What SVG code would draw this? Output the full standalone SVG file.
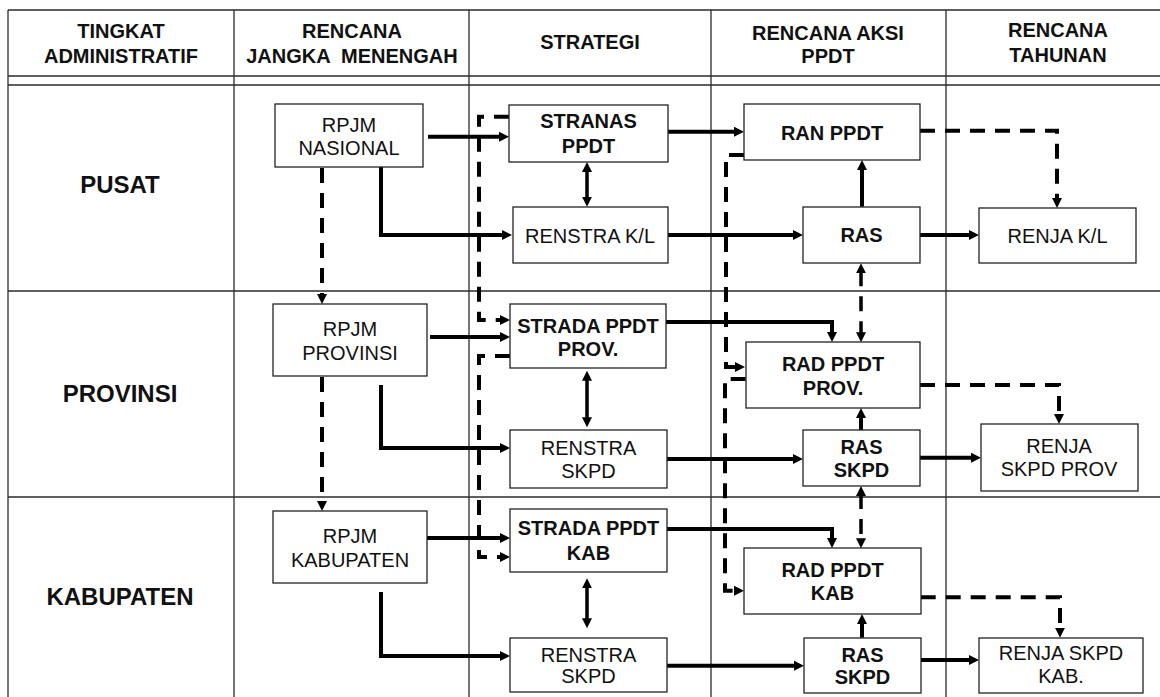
<svg xmlns="http://www.w3.org/2000/svg" width="1160" height="697" viewBox="0 0 1160 697">
<style>
.grid{stroke:#2b2b2b;stroke-width:1.3;fill:none}
.box{fill:#fff;stroke:#222;stroke-width:1.3}
.t{font-family:"Liberation Sans",Arial,sans-serif;font-size:20px;fill:#111;text-anchor:middle}
.b{font-weight:bold}
.lv{font-weight:bold;font-size:24px}
.c{fill:none;stroke:#000;stroke-width:4;marker-end:url(#ah)}
.dbl{fill:none;stroke:#000;stroke-width:3.5;marker-start:url(#ah);marker-end:url(#ah)}
.d{stroke-dasharray:15 10}
</style>
<defs>
<marker id="ah" markerUnits="userSpaceOnUse" markerWidth="10" markerHeight="10" viewBox="0 0 10 10" refX="2" refY="5" orient="auto-start-reverse"><path d="M0,0 L10,5 L0,10 z" fill="#000"/></marker>
</defs>
<rect width="1160" height="697" fill="#fff"/>
<g id="table">
<path class="grid" d="M8,10 H1160 M8,76 H1160 M8,85 H1160 M8,291 H1160 M8,497 H1160 M8,10 V697 M234,10 V697 M469,10 V697 M711,10 V697 M946,10 V697"/>
<text class="t b" x="121" y="38">TINGKAT</text>
<text class="t b" x="121" y="63">ADMINISTRATIF</text>
<text class="t b" x="352" y="38">RENCANA</text>
<text class="t b" x="352" y="63" style="white-space:pre">JANGKA  MENENGAH</text>
<text class="t b" x="590" y="49">STRATEGI</text>
<text class="t b" x="828" y="40">RENCANA AKSI</text>
<text class="t b" x="828" y="63">PPDT</text>
<text class="t b" x="1058" y="37">RENCANA</text>
<text class="t b" x="1058" y="62">TAHUNAN</text>
<text class="t lv" x="120" y="193">PUSAT</text>
<text class="t lv" x="120" y="402">PROVINSI</text>
<text class="t lv" x="120" y="605">KABUPATEN</text>
</g>
<g id="connectors">
<path class="c" d="M428,136.7 H501"/>
<path class="c" d="M381,167 V235 H504"/>
<path class="c" d="M430,337 H502"/>
<path class="c" d="M381,385 V448 H502"/>
<path class="c" d="M427,538 H502"/>
<path class="c" d="M381,592 V656 H502"/>
<path class="c" d="M666,131.7 H736"/>
<path class="c" d="M668,235 H795"/>
<path class="c" d="M666,322 H832 V334"/>
<path class="c" d="M667,459 H795"/>
<path class="c" d="M667,529 H832 V540"/>
<path class="c" d="M667,665.7 H796"/>
<path class="c" d="M862,206.7 V168"/>
<path class="c" d="M861,430 V416"/>
<path class="c" d="M862,637.7 V622"/>
<path class="c" d="M920,235 H971"/>
<path class="c" d="M920,457.7 H973"/>
<path class="c" d="M921,660 H971"/>
<path class="dbl" d="M587,170 V198.7"/>
<path class="dbl" d="M587,378.7 V419.3"/>
<path class="dbl" d="M587,586.3 V620.3"/>
<path class="c d" d="M322,168 V296"/>
<path class="c d" d="M322,377 V503"/>
<path class="c d" d="M509,116.7 H479 V320 H502"/>
<path class="c d" d="M510,356 H479 V557 H502"/>
<path class="c d" d="M744,155 H726 V367 H737"/>
<path class="c d" d="M745.7,379 H725 V590.7 H736"/>
<path class="c d" d="M920,130.7 H1057 V200"/>
<path class="c d" d="M920,385 H1059 V416"/>
<path class="c d" d="M920.7,597.3 H1060 V629.7"/>
<path class="dbl d" stroke-width="4" d="M861,271.3 V334.3"/>
<path class="dbl d" stroke-width="4" d="M861,494 V540.3"/>
</g>
<g id="rpjm-nasional"><rect class="box" x="275" y="104" width="148" height="63"/><text class="t" x="349" y="131.7">RPJM</text><text class="t" x="349" y="155">NASIONAL</text></g>
<g id="rpjm-provinsi"><rect class="box" x="273" y="304" width="154" height="72"/><text class="t" x="350" y="336">RPJM</text><text class="t" x="350" y="360">PROVINSI</text></g>
<g id="rpjm-kabupaten"><rect class="box" x="273" y="511" width="154" height="72"/><text class="t" x="350" y="543">RPJM</text><text class="t" x="350" y="567">KABUPATEN</text></g>
<g id="stranas"><rect class="box" x="509" y="105" width="159" height="57"/><text class="t b" x="588.5" y="128.3">STRANAS</text><text class="t b" x="588.5" y="152.7">PPDT</text></g>
<g id="renstra-kl"><rect class="box" x="513" y="207" width="155" height="56"/><text class="t" x="590" y="242.7">RENSTRA K/L</text></g>
<g id="strada-prov"><rect class="box" x="510" y="304" width="156" height="64"/><text class="t b" x="588" y="332.7">STRADA PPDT</text><text class="t b" x="588" y="356">PROV.</text></g>
<g id="renstra-skpd-prov"><rect class="box" x="510" y="430" width="157" height="58"/><text class="t" x="588.5" y="455">RENSTRA</text><text class="t" x="588.5" y="478.3">SKPD</text></g>
<g id="strada-kab"><rect class="box" x="510" y="509" width="157" height="63"/><text class="t b" x="588.5" y="535">STRADA PPDT</text><text class="t b" x="588.5" y="560">KAB</text></g>
<g id="renstra-skpd-kab"><rect class="box" x="510" y="638" width="157" height="54"/><text class="t" x="588.5" y="661.7">RENSTRA</text><text class="t" x="588.5" y="683.3">SKPD</text></g>
<g id="ran-ppdt"><rect class="box" x="744" y="104" width="176" height="56"/><text class="t b" x="832" y="140">RAN PPDT</text></g>
<g id="ras"><rect class="box" x="803" y="207" width="117" height="56"/><text class="t b" x="861.5" y="241.7">RAS</text></g>
<g id="rad-prov"><rect class="box" x="746" y="342" width="174" height="66"/><text class="t b" x="833" y="370.7">RAD PPDT</text><text class="t b" x="833" y="395">PROV.</text></g>
<g id="ras-skpd-prov"><rect class="box" x="803" y="430" width="117" height="56"/><text class="t b" x="861.5" y="454">RAS</text><text class="t b" x="861.5" y="477.3">SKPD</text></g>
<g id="rad-kab"><rect class="box" x="744" y="548" width="177" height="66"/><text class="t b" x="832.5" y="576.7">RAD PPDT</text><text class="t b" x="832.5" y="600">KAB</text></g>
<g id="ras-skpd-kab"><rect class="box" x="804" y="638" width="117" height="55"/><text class="t b" x="862.5" y="661.7">RAS</text><text class="t b" x="862.5" y="684">SKPD</text></g>
<g id="renja-kl"><rect class="box" x="979" y="208" width="157" height="55"/><text class="t" x="1057.5" y="242.7">RENJA K/L</text></g>
<g id="renja-skpd-prov"><rect class="box" x="981" y="424" width="157" height="67"/><text class="t" x="1059" y="452.7">RENJA</text><text class="t" x="1059" y="476">SKPD PROV</text></g>
<g id="renja-skpd-kab"><rect class="box" x="979" y="638" width="164" height="55"/><text class="t" x="1061" y="660">RENJA SKPD</text><text class="t" x="1061" y="683.3">KAB.</text></g>
</svg>
